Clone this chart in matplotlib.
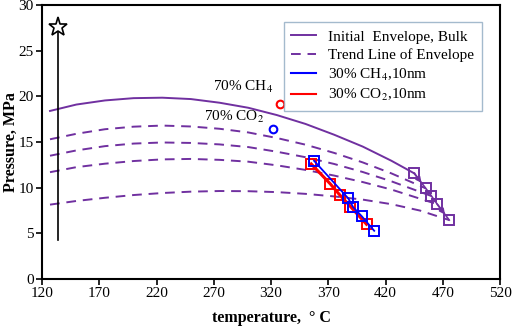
import numpy as np
import matplotlib
matplotlib.use("Agg")
import matplotlib.pyplot as plt

plt.rcParams['font.family'] = ['Liberation Serif', 'DejaVu Serif']
plt.rcParams['mathtext.fontset'] = 'stix'

# -- data --------------------------------------------------------
env_t = [127, 150, 175, 200, 225, 250, 275, 300, 325, 350, 375, 400, 425, 445]
env_p = [18.4, 19.1, 19.55, 19.8, 19.85, 19.7, 19.3, 18.75, 17.95, 16.98, 15.8, 14.5, 12.95, 11.57]

trend_t = [
    [127, 150, 175, 200, 225, 250, 275, 300, 325, 350, 375, 400, 425, 455],
    [127, 150, 175, 200, 225, 250, 275, 300, 325, 350, 375, 400, 425, 460],
    [127, 150, 175, 200, 225, 250, 275, 300, 325, 350, 375, 400, 425, 465],
    [127, 150, 175, 200, 225, 250, 275, 300, 325, 350, 375, 400, 425, 450, 475.5],
]
trend_p = [
    [15.3, 15.9, 16.4, 16.68, 16.8, 16.7, 16.45, 16.05, 15.44, 14.71, 13.81, 12.77, 11.57, 9.93],
    [13.5, 14.08, 14.55, 14.83, 14.95, 14.9, 14.74, 14.45, 13.94, 13.34, 12.6, 11.72, 10.7, 9.09],
    [11.7, 12.25, 12.63, 12.92, 13.1, 13.15, 13.05, 12.85, 12.45, 11.95, 11.33, 10.62, 9.8, 8.2],
    [8.15, 8.55, 8.9, 9.2, 9.42, 9.57, 9.64, 9.62, 9.52, 9.33, 9.05, 8.7, 8.2, 7.5, 6.46],
]

sq_t = [445, 455, 460, 465, 475.5]
sq_p = [11.57, 9.93, 9.09, 8.2, 6.46]

ch4_t = [357.5, 387.3, 391.7, 399, 410]
ch4_p = [12.95, 8.84, 7.86, 6.9, 5.29]
co2_t = [355, 371.8, 380, 389.3, 403.3]
co2_p = [12.6, 10.4, 9.2, 7.94, 6.0]

star_t, star_p, star_low = 134.3, 27.6, 4.3
circ_ch4 = (328, 19.15)
circ_co2 = (321.5, 16.4)

purple = '#7030A0'

# -- figure ---------------------------------------------------------
fig = plt.figure(figsize=(5.12, 3.28), dpi=100)
ax = fig.add_axes([0.082, 0.149, 0.895, 0.836])

ax.plot(env_t, env_p, color=purple, lw=1.4, label='Initial  Envelope, Bulk')
for i, (t, p) in enumerate(zip(trend_t, trend_p)):
    ax.plot(t, p, color=purple, lw=1.4, ls=(0, (5, 3.5)),
            label='Trend Line of Envelope' if i == 0 else None)

ax.plot(sq_t, sq_p, color=purple, lw=1.2, marker='s', ms=7.5, mfc='none',
        mec=purple, mew=1.4)
for a, b in [(0, 1), (3, 4)]:
    ax.annotate('', xy=(sq_t[b], sq_p[b]), xytext=(sq_t[a], sq_p[a]),
                arrowprops=dict(arrowstyle='-|>', color=purple, lw=1.2,
                                mutation_scale=8, shrinkA=0, shrinkB=5))

ax.plot(co2_t, co2_p, color='#FF0000', lw=2.2, marker='s', ms=7.5, mfc='none',
        mec='#FF0000', mew=1.4)
ax.plot(ch4_t, ch4_p, color='#0000FF', lw=1.3, marker='s', ms=7.5, mfc='none',
        mec='#0000FF', mew=1.4)
ax.plot([], [], color='#0000FF', lw=1.5, label='30% CH$_4$,10nm')
ax.plot([], [], color='#FF0000', lw=1.5, label='30% CO$_2$,10nm')

ax.plot([star_t, star_t], [star_low, star_p], color='black', lw=1.2)
ax.plot(star_t, star_p, marker='*', ms=14, mfc='white', mec='black', mew=1.2)

ax.plot(*circ_ch4, marker='o', ms=5.5, mfc='none', mec='#FF0000', mew=1.5)
ax.plot(*circ_co2, marker='o', ms=5.5, mfc='none', mec='#0000FF', mew=1.5)
ax.text(321.5, 20.1, '70% CH$_4$', ha='right', va='bottom', fontsize=11)
ax.text(314, 16.9, '70% CO$_2$', ha='right', va='bottom', fontsize=11)

ax.set_xlim(120, 520)
ax.set_ylim(0, 30)
ax.set_xticks(np.arange(120, 521, 50))
ax.set_yticks(np.arange(0, 31, 5))
ax.tick_params(direction='out', length=4, width=1.2, labelsize=11, pad=2)
for s in ax.spines.values():
    s.set_linewidth(1.5)

fig.text(0.53, 0.03, 'temperature,  ° C', fontsize=11.5, fontweight='bold',
         ha='center', va='center')
fig.text(0.022, 0.567, 'Pressure, MPa', fontsize=11.5, fontweight='bold',
         ha='center', va='center', rotation=90)

leg = ax.legend(loc='upper right', bbox_to_anchor=(0.976, 0.964), fontsize=11,
                frameon=True, fancybox=False, edgecolor='#8EA9C1',
                handlelength=1.6, handletextpad=0.8, labelspacing=0.3,
                borderpad=0.5)
leg.get_frame().set_linewidth(1.0)

plt.savefig('out.png', dpi=100)
